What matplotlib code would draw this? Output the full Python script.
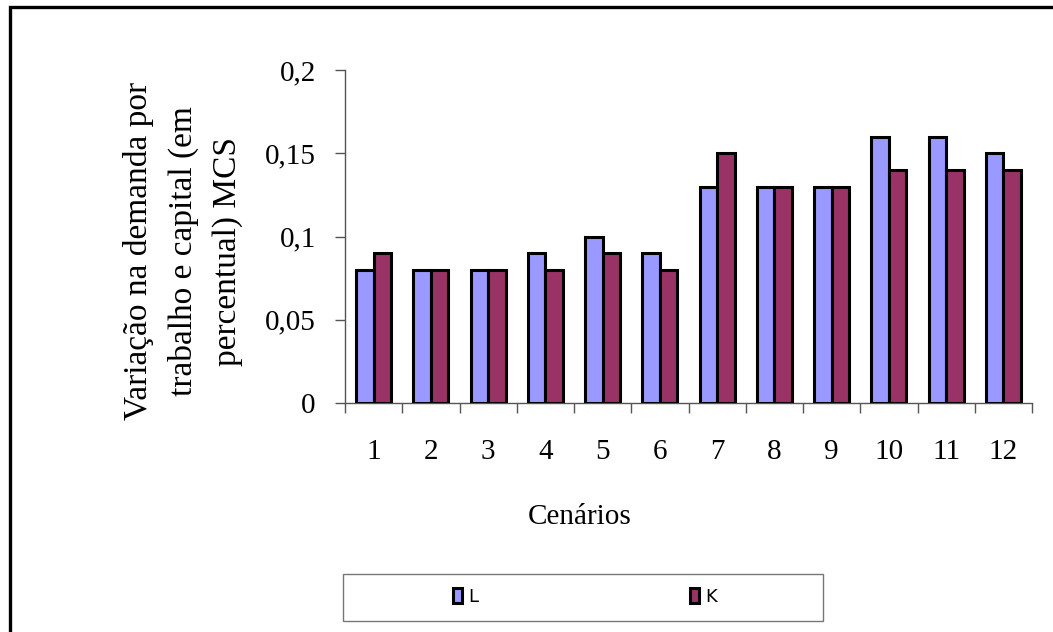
import numpy as np
import matplotlib.pyplot as plt
from matplotlib.patches import Rectangle, Patch

# Dados do gráfico
cenarios = ['1', '2', '3', '4', '5', '6', '7', '8', '9', '10', '11', '12']
valores_L = [0.08, 0.08, 0.08, 0.09, 0.10, 0.09, 0.13, 0.13, 0.13, 0.16, 0.16, 0.15]
valores_K = [0.09, 0.08, 0.08, 0.08, 0.09, 0.08, 0.15, 0.13, 0.13, 0.14, 0.14, 0.14]
yticks = [0, 0.05, 0.1, 0.15, 0.2]
ytick_labels = ['0', '0,05', '0,1', '0,15', '0,2']

cor_L = '#9999FF'
cor_K = '#993366'
serif = 'Liberation Serif'

W, H = 1053, 632
fig = plt.figure(figsize=(W / 100, H / 100), dpi=100)

# moldura externa (cortada à direita e embaixo)
fig.patches.append(Rectangle((10 / W, -0.05), 1.1, 1 - 6.5 / H + 0.05,
                             transform=fig.transFigure, fill=False,
                             edgecolor='black', linewidth=2.4))

ax = fig.add_axes([345 / W, 1 - 403 / H, (1032 - 345) / W, (403 - 70) / H])

x = np.arange(1, len(cenarios) + 1)
w = 0.305
ax.bar(x - w / 2, valores_L, w, color=cor_L, edgecolor='black', linewidth=2.2, zorder=3)
ax.bar(x + w / 2, valores_K, w, color=cor_K, edgecolor='black', linewidth=2.2, zorder=3)

ax.set_xlim(0.5, 12.5)
ax.set_ylim(0, 0.2)

for s in ['top', 'right']:
    ax.spines[s].set_visible(False)
for s in ['left', 'bottom']:
    ax.spines[s].set_color('#555555')
    ax.spines[s].set_linewidth(1.0)

ax.set_yticks(yticks)
ax.set_yticklabels(ytick_labels, fontfamily=serif, fontsize=21)
ax.tick_params(axis='y', length=7, width=1, color='#555555', pad=14)

ax.set_xticks(np.arange(0.5, 13, 1))
ax.set_xticklabels([])
ax.set_xticks(x, minor=True)
ax.set_xticklabels(cenarios, minor=True, fontfamily=serif, fontsize=21)
ax.tick_params(axis='x', which='major', length=7, width=1, color='#555555')
ax.tick_params(axis='x', which='minor', length=0, pad=26)

fig.text(580 / W, 1 - 517 / H, 'Cenários', fontfamily=serif, fontsize=21,
         ha='center', va='center')

linhas = ['Variação na demanda por', 'trabalho e capital (em', 'percentual) MCS']
for i, t in enumerate(linhas):
    fig.text((138 + 45 * i) / W, 1 - 251 / H, t, fontfamily=serif, fontsize=24,
             rotation=90, ha='center', va='center')

# caixa da legenda
fig.patches.append(Rectangle((343 / W, 1 - 621 / H), (823 - 343) / W, (621 - 574) / H,
                             transform=fig.transFigure, fill=False,
                             edgecolor='#777777', linewidth=1.0))
handles = [Patch(facecolor=cor_L, edgecolor='black', linewidth=2.2),
           Patch(facecolor=cor_K, edgecolor='black', linewidth=2.2)]
fig.legend(handles, ['L', 'K'], ncol=2, loc='center',
           bbox_to_anchor=(585 / W, 1 - 597 / H), frameon=False,
           prop={'family': 'DejaVu Sans', 'size': 13},
           handlelength=0.5, handleheight=0.9, handletextpad=0.35,
           columnspacing=11.7)

fig.savefig('out.png', dpi=100)
